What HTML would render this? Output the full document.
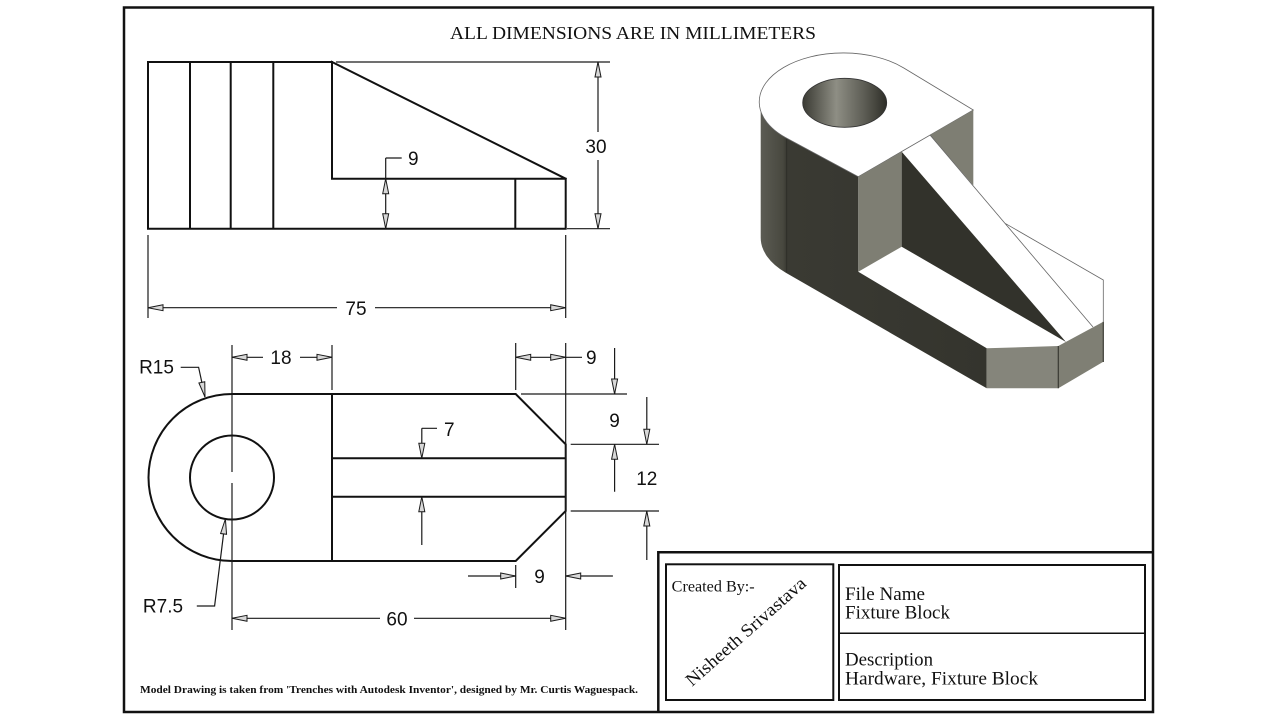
<!DOCTYPE html>
<html><head><meta charset="utf-8"><style>
html,body{margin:0;padding:0;background:#fff;}
svg{display:block;}
.o{stroke:#111;stroke-width:2;fill:none;stroke-linecap:square;}
.d{stroke:#1a1a1a;stroke-width:1.2;fill:none;}
.a{fill:#d8d8d8;stroke:#1a1a1a;stroke-width:1;}
.t{font-family:"Liberation Sans",Arial,sans-serif;font-size:19px;fill:#111;}
.s{font-family:"Liberation Serif","Times New Roman",serif;fill:#111;}
</style></head><body>
<svg width="1280" height="720" viewBox="0 0 1280 720" xmlns="http://www.w3.org/2000/svg">
<defs>
<linearGradient id="hole" x1="0" x2="1" y1="0" y2="0">
<stop offset="0" stop-color="#3a3a33"/><stop offset="0.4" stop-color="#8e8e84"/><stop offset="0.75" stop-color="#5a5a52"/><stop offset="1" stop-color="#2e2e28"/>
</linearGradient>
<linearGradient id="body" gradientUnits="userSpaceOnUse" x1="760" y1="0" x2="990" y2="0">
<stop offset="0" stop-color="#5c5c54"/><stop offset="0.1" stop-color="#48483f"/><stop offset="0.115" stop-color="#3a3a33"/><stop offset="1" stop-color="#34342d"/>
</linearGradient>
</defs>

<!-- border -->
<rect x="124" y="7.5" width="1029" height="704.5" fill="none" stroke="#111" stroke-width="2.5"/>
<text class="s" x="450" y="39" font-size="18" textLength="366" lengthAdjust="spacingAndGlyphs">ALL DIMENSIONS ARE IN MILLIMETERS</text>

<!-- FRONT VIEW -->
<path class="o" d="M148,62 H332 M148,62 V228.7 H565.7 V178.7 H332 V62 L565.7,178.7 M190,62 V228.7 M230.7,62 V228.7 M273.3,62 V228.7 M515.3,178.7 V228.7"/>
<path class="d" d="M336,62 H610 M567,228.7 H610 M598,62 V132 M598,160 V228.7 M385.7,158 V228.7 M385.7,158 H401.7 M148,235 V318 M565.7,235 V318 M148,307.7 H337 M375,307.7 H565.7"/>
<polygon class="a" points="598,62 595,77 601,77"/>
<polygon class="a" points="598,228.7 595,213.7 601,213.7"/>
<polygon class="a" points="385.7,178.7 382.7,193.7 388.7,193.7"/>
<polygon class="a" points="385.7,228.7 382.7,213.7 388.7,213.7"/>
<polygon class="a" points="148,307.7 163,304.7 163,310.7"/>
<polygon class="a" points="565.7,307.7 550.7,304.7 550.7,310.7"/>
<text class="t" x="596" y="153" text-anchor="middle">30</text>
<text class="t" x="408" y="165">9</text>
<text class="t" x="356" y="315" text-anchor="middle">75</text>

<!-- TOP VIEW -->
<path class="o" d="M232,394 A83.5,83.5 0 0 0 232,561 M232,394 H515.7 L565.7,444.3 V511 L515.7,561 H232 M332,394 V561 M332,458.3 H565.7 M332,496.7 H565.7"/>
<circle class="o" cx="232" cy="477.5" r="42"/>
<path class="d" d="M232,345 V472 M232,483 V630 M332,345 V390 M232,357.3 H263 M300,357.3 H332
M515.7,343 V390 M565.7,343 V630 M515.7,357.3 H582
M521,394 H627 M614.6,348 V394 M570.7,444.3 H659 M646.8,397 V444.3 M614.6,444.3 V491.7
M570.7,511 H659 M646.8,511 V560
M515.7,565 V588 M468,576 H515.7 M565.7,576 H612.9
M232,618.3 H380 M414,618.3 H565.7
M180.7,367.3 H198.6 L205,397 M196.8,606 H214.6 L225.4,519
M421.8,428.3 H437 M421.8,428.3 V458.3 M421.8,496.7 V545"/>
<polygon class="a" points="232,357.3 247,354.3 247,360.3"/>
<polygon class="a" points="332,357.3 317,354.3 317,360.3"/>
<polygon class="a" points="515.7,357.3 530.7,354.3 530.7,360.3"/>
<polygon class="a" points="565.7,357.3 550.7,354.3 550.7,360.3"/>
<polygon class="a" points="614.6,394 611.6,379 617.6,379"/>
<polygon class="a" points="646.8,444.3 643.8,429.3 649.8,429.3"/>
<polygon class="a" points="614.6,444.3 611.6,459.3 617.6,459.3"/>
<polygon class="a" points="646.8,511 643.8,526 649.8,526"/>
<polygon class="a" points="515.7,576 500.7,573 500.7,579"/>
<polygon class="a" points="565.7,576 580.7,573 580.7,579"/>
<polygon class="a" points="232,618.3 247,615.3 247,621.3"/>
<polygon class="a" points="565.7,618.3 550.7,615.3 550.7,621.3"/>
<polygon class="a" points="421.8,458.3 418.8,443.3 424.8,443.3"/>
<polygon class="a" points="421.8,496.7 418.8,511.7 424.8,511.7"/>
<polygon class="a" points="0,0 -3,-15 3,-15" transform="translate(205,397) rotate(-12.2)"/>
<polygon class="a" points="0,0 -3,15 3,15" transform="translate(225.4,519) rotate(7)"/>
<text class="t" x="281" y="364" text-anchor="middle">18</text>
<text class="t" x="586" y="364">9</text>
<text class="t" x="614.6" y="427" text-anchor="middle">9</text>
<text class="t" x="646.8" y="485" text-anchor="middle">12</text>
<text class="t" x="539.6" y="583" text-anchor="middle">9</text>
<text class="t" x="397" y="625.5" text-anchor="middle">60</text>
<text class="t" x="156.5" y="373.5" text-anchor="middle">R15</text>
<text class="t" x="163" y="612.5" text-anchor="middle">R7.5</text>
<text class="t" x="444" y="436">7</text>

<!-- ISOMETRIC -->
<path d="M760.7,102.8 L760.7,237.8 A84,49 0 0 0 785.6,272.6 L986.7,388.3 L986.7,348.3 L858.3,271.7 L858.3,176.7 L785.6,137.6 Z" fill="url(#body)"/>
<line x1="786.7" y1="132" x2="786.7" y2="272" stroke="#2c2c26" stroke-width="0.8"/>
<path d="M903.8,68 L973.3,110 L858.3,176.7 L785.6,137.6 A84,49 0 1 1 903.8,68 Z" fill="#fff" stroke="#666" stroke-width="0.8"/>
<ellipse cx="844.7" cy="102.8" rx="42" ry="24.5" fill="url(#hole)" stroke="#333" stroke-width="0.8"/>
<path d="M858.3,176.7 L901.7,151.7 L901.7,246.7 L858.3,271.7 Z" fill="#7e7e73"/>
<path d="M901.7,151.7 L901.7,246.7 L1066,342 Z" fill="#32322b"/>
<path d="M930,135 L973.3,110 L973.3,185.4 Z" fill="#7e7e73"/>
<path d="M986.7,348.3 L1058.3,346 L1058.3,388.3 L986.7,388.3 Z" fill="#85857b"/>
<path d="M1058.3,346 L1103.3,321.7 L1103.3,361.7 L1058.3,388.3 Z" fill="#7f7f74"/>
<path d="M930,135 L1093,327 M1005,223.3 L1103.3,280 V321.7" stroke="#666" stroke-width="0.8" fill="none"/>
<path d="M1058.3,346 V388.3 M1103.3,321.7 V362" stroke="#3a3a33" stroke-width="1.2" fill="none"/>

<!-- TITLE BLOCK -->
<path d="M658.3,712 V552.3 H1153" fill="none" stroke="#111" stroke-width="2.5"/>
<rect x="666" y="564.3" width="167.3" height="135.7" fill="none" stroke="#111" stroke-width="2"/>
<rect x="839" y="565" width="306" height="135" fill="none" stroke="#111" stroke-width="2"/>
<line x1="839" y1="633.3" x2="1145" y2="633.3" stroke="#111" stroke-width="1.5"/>
<text class="s" x="671.7" y="591.5" font-size="15.5" textLength="83" lengthAdjust="spacingAndGlyphs">Created By:-</text>
<text class="s" font-size="18" textLength="154" lengthAdjust="spacingAndGlyphs" transform="translate(692,687) rotate(-41.5)" x="0" y="0">Nisheeth Srivastava</text>
<text class="s" x="845" y="600" font-size="18.5" textLength="80" lengthAdjust="spacingAndGlyphs">File Name</text>
<text class="s" x="845" y="618.3" font-size="18.5" textLength="105" lengthAdjust="spacingAndGlyphs">Fixture Block</text>
<text class="s" x="845" y="665.7" font-size="18.5" textLength="88" lengthAdjust="spacingAndGlyphs">Description</text>
<text class="s" x="845" y="684.3" font-size="18.5" textLength="193" lengthAdjust="spacingAndGlyphs">Hardware, Fixture Block</text>

<!-- footer -->
<text class="s" x="140" y="693" font-size="11" font-weight="bold" textLength="498" lengthAdjust="spacingAndGlyphs">Model Drawing is taken from 'Trenches with Autodesk Inventor', designed by Mr. Curtis Waguespack.</text>
</svg>
</body></html>
